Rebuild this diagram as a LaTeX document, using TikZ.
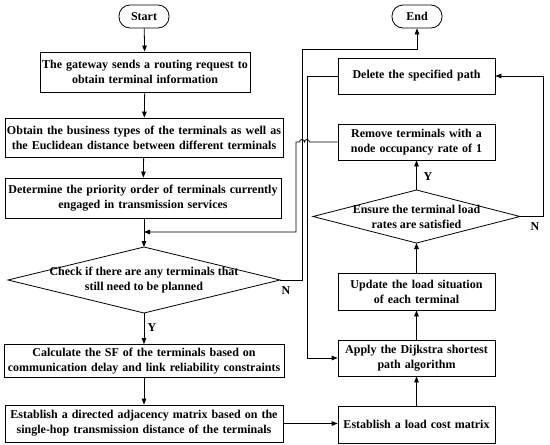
\documentclass[tikz,border=0pt]{standalone}
\usepackage{fontspec}
\setmainfont{Liberation Serif}
\usetikzlibrary{arrows.meta,shapes.geometric}
\begin{document}
\begin{tikzpicture}[x=1pt,y=-1pt,
  every node/.style={font=\fontsize{12}{15}\selectfont\bfseries, inner sep=0pt, align=center},
  procbox/.style={draw, line width=0.8pt, minimum width=#1, text width=#1},
  termbox/.style={draw, line width=0.8pt, rounded corners=11pt, minimum width=50pt, minimum height=23pt},
  conn/.style={line width=0.8pt, -{Triangle[length=6pt,width=4.5pt]}},
  plain/.style={line width=0.8pt},
  lbl/.style={font=\fontsize{12}{14}\selectfont\bfseries}
]
\useasboundingbox (0,0) rectangle (550,445);
% left column
\node[termbox] (start) at (144,16.5) {Start};
\node[procbox=210pt, minimum height=40pt] (b1) at (145,72) {The gateway sends a routing request to\\obtain terminal information};
\node[procbox=278pt, minimum height=39pt] (b2) at (144,137.5) {Obtain the business types of the terminals as well as\\the Euclidean distance between different terminals};
\node[procbox=276pt, minimum height=40pt] (b3) at (143,198) {Determine the priority order of terminals currently\\engaged in transmission services};
\coordinate (d1n) at (144,247);
\coordinate (d1s) at (144,313);
\coordinate (d1w) at (8,280);
\coordinate (d1e) at (280,280);
\draw[plain] (d1n) -- (d1e) -- (d1s) -- (d1w) -- cycle;
\node (d1) at (144,280) {Check if there are any terminals that\\still need to be planned};
\node[procbox=280pt, minimum height=33pt] (b4) at (144,361) {Calculate the SF of the terminals based on\\communication delay and link reliability constraints};
\node[procbox=278pt, minimum height=37pt] (b5) at (144,423.5) {Establish a directed adjacency matrix based on the\\single-hop transmission distance of the terminals};
% right column
\node[termbox] (end) at (417,16.5) {End};
\node[procbox=157pt, minimum height=36pt] (del) at (416.5,76) {Delete the specified path};
\node[procbox=157pt, minimum height=36pt] (rm) at (416.5,142) {Remove terminals with a\\node occupancy rate of 1};
\coordinate (d2n) at (416.5,190);
\coordinate (d2s) at (416.5,243);
\coordinate (d2w) at (313,216.5);
\coordinate (d2e) at (520,216.5);
\draw[plain] (d2n) -- (d2e) -- (d2s) -- (d2w) -- cycle;
\node (d2) at (416.5,216.5) {Ensure the terminal load\\rates are satisfied};
\node[procbox=157pt, minimum height=37pt] (up) at (416.5,291.5) {Update the load situation\\of each terminal};
\node[procbox=157pt, minimum height=36pt] (dj) at (416.5,358) {Apply the Dijkstra shortest\\path algorithm};
\node[procbox=157pt, minimum height=37pt] (lc) at (416.5,424.5) {Establish a load cost matrix};
% connectors left
\draw[conn] (start) -- (b1);
\draw[conn] (b1) -- (b2);
\draw[conn] (b2) -- (b3);
\draw[conn] (b3.south -| d1n) -- (d1n);
\draw[conn] (d1s) -- (b4.north -| d1s);
\draw[conn] (b4) -- (b5);
\draw[conn] (b5.east) -- (b5.east -| lc.west);
% connectors right
\draw[conn] (lc) -- (dj);
\draw[conn] (dj) -- (up);
\draw[conn] (up.north -| d2s) -- (d2s);
\draw[conn] (d2n) -- (rm.south -| d2n);
\coordinate (nr) at (543,216.5);
\coordinate (nrt) at (543,76);
\draw[conn] (d2e) -- (nr) -- (nrt) -- (del.east);
\coordinate (dl1) at (307,76);
\coordinate (dl2) at (307,358);
\draw[conn] (del.west) -- (dl1) -- (dl2) -- (dj.west);
\coordinate (ne1) at (302,280);
\coordinate (ne2) at (302,49);
\coordinate (ne3) at (417,49);
\draw[conn] (d1e) -- (ne1) -- (ne2) -- (ne3) -- (end.south);
\coordinate (j1) at (309.5,142);
\coordinate (rl1) at (296,142);
\coordinate (rl2) at (296,232);
\coordinate (rl3) at (144,232);
\draw[conn] (rm.west) -- (j1) .. controls (309.5,138.7) and (304.5,138.7) .. (304.5,142)
  .. controls (304.5,138.7) and (299.5,138.7) .. (299.5,142) -- (rl1) -- (rl2) -- (rl3);
% labels
\node[lbl] (y1) at (152,328) {Y};
\node[lbl] (n1) at (286,291) {N};
\node[lbl] (y2) at (428,177) {Y};
\node[lbl] (n2) at (535,227) {N};
\end{tikzpicture}
\end{document}
